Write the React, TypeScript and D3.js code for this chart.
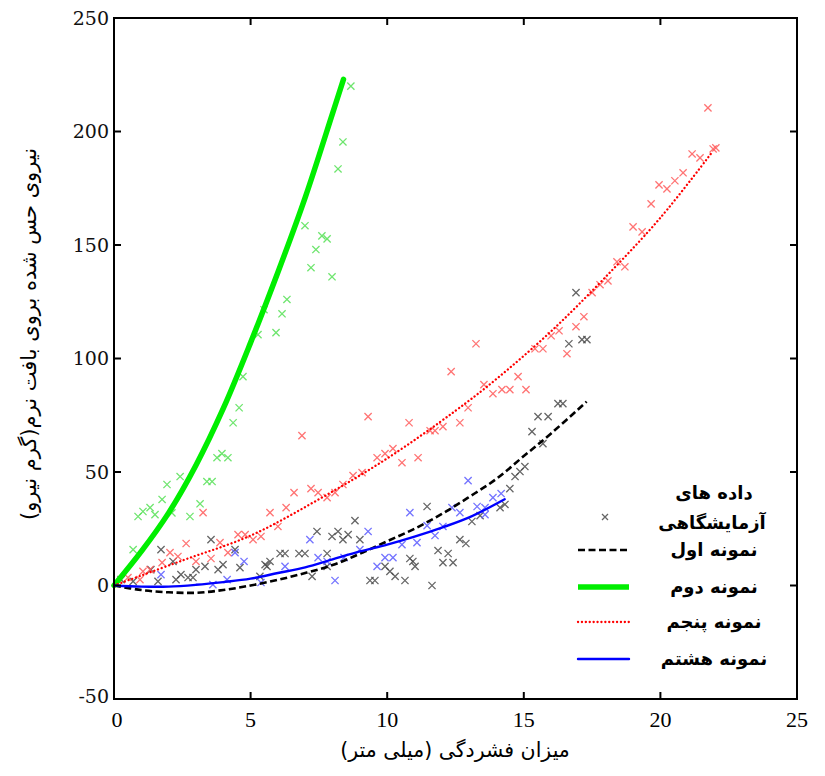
import React from "react";
import * as d3 from "d3";

const X_TICKS = [0, 5, 10, 15, 20, 25];
const Y_TICKS = [-50, 0, 50, 100, 150, 200, 250];

// fitted curves [x, y]
const fitSample1: [number, number][] = [
  [0, 0], [1, -2], [2, -3], [3, -3.2], [4, -2], [5, 0], [6, 2.5], [7, 5.5], [8, 9], [9, 14],
  [10, 19.5], [11, 25], [12, 31.5], [13, 39], [14, 47], [15, 57], [16, 67], [17.3, 81],
];
const fitSample2: [number, number][] = [
  [0, 0], [1, 15], [2, 32], [3, 53], [4, 78], [5, 107], [6, 138], [7, 171], [8, 208], [8.4, 223],
];
const fitSample5: [number, number][] = [
  [0, 0], [2.5, 11], [5, 22], [7.5, 38], [10, 56], [12.5, 77], [14, 91], [16, 112], [18, 136],
  [20, 162], [21.9, 191],
];
const fitSample8: [number, number][] = [
  [0, 0], [1, -0.5], [2, -0.5], [3, 0.3], [4, 1.5], [5, 3], [6, 5.5], [7, 8], [8, 11.5], [9, 15],
  [10, 18], [11, 21.5], [12, 25.5], [13, 30], [14.3, 38],
];

// experimental data [x, y]
const expSample1: [number, number][] = [
  [16.25, 80.1], [16.43, 80.1], [15.52, 74.4], [15.89, 74.4], [15.3, 67.8], [15.7, 62.5],
  [15.04, 52.4], [14.86, 50.2], [14.68, 48], [14.49, 42.7], [14.31, 35.7], [14.13, 34.3],
  [13.4, 30.8], [13.1, 28.2], [11.46, 34.8], [12.66, 20.2], [12.88, 18.5], [11.86, 15.4],
  [12.23, 14.1], [12.04, 10.1], [12.41, 10.1], [10.94, 10.6], [11.02, 8.4], [11.64, 0],
  [8.82, 28.6], [7.43, 23.8], [8.2, 23.8], [7.98, 21.6], [8.57, 22.4], [8.38, 20.2], [9.0, 20.2],
  [6.08, 14.1], [6.26, 14.1], [6.77, 14.1], [6.99, 14.1], [7.8, 14.1], [5.71, 10.6], [5.6, 8.4],
  [7.8, 8.4], [9.92, 8.4], [10.83, 11.9], [10.1, 6.2], [10.29, 4], [7.25, 4], [9.37, 2.2],
  [9.55, 2.2], [10.65, 2.2], [3.55, 20.2], [1.72, 15.8], [4.43, 15.8], [2.16, 10.6], [3.33, 8.4],
  [3.0, 7], [3.99, 9.2], [3.81, 7], [4.61, 7.9], [2.45, 4.8], [1.35, 7], [2.71, 3.5], [2.89, 3.5],
  [2.27, 2.6], [1.61, 1.8], [0.26, 2.6], [0.7, 1.8], [5.53, 9.2], [5.34, 4], [16.91, 129],
  [16.65, 106.5], [17.13, 108.3], [17.31, 108.3],
];
const expSample2: [number, number][] = [
  [8.67, 220], [8.38, 195.4], [8.2, 183.5], [6.99, 158.5], [7.61, 154], [7.8, 152.7], [7.39, 148],
  [7.21, 140], [7.98, 136], [6.33, 126], [6.15, 119.7], [5.49, 121.5], [5.93, 111.4], [5.27, 110.5],
  [4.72, 92], [4.58, 78.3], [4.36, 71.7], [3.77, 56.3], [3.95, 58.1], [4.17, 56.3], [3.4, 45.8],
  [3.59, 45.8], [3.15, 36], [2.78, 30.4], [2.42, 48], [1.94, 44.5], [1.76, 37.9], [2.12, 32],
  [1.32, 34.3], [1.06, 32.6], [0.88, 30.4], [1.5, 31.2], [0.7, 15.8],
];
const expSample5: [number, number][] = [
  [21.74, 210.4], [22.03, 192.8], [21.93, 192.3], [21.16, 190.1], [21.45, 188.4], [20.83, 181.8],
  [20.53, 178.3], [20.24, 174.7], [19.95, 176.5], [19.66, 168.1], [19.0, 158], [19.33, 155.8],
  [18.41, 142.6], [18.7, 140.4], [18.08, 134.2], [17.79, 132.5], [17.5, 129], [17.2, 118.4],
  [16.91, 114], [16.0, 110], [16.29, 112.2], [15.41, 104.3], [15.7, 104.3], [16.58, 102.1],
  [14.79, 92], [14.2, 86.3], [14.49, 86.3], [15.08, 86.3], [13.25, 106.5], [12.34, 94.2],
  [13.87, 84.5], [13.54, 88.5], [12.96, 78.3], [12.66, 71.7], [12.04, 70], [11.75, 68.2],
  [11.57, 68.2], [10.8, 71.7], [9.3, 74.4], [6.88, 66], [11.13, 56.3], [10.54, 54.1], [10.21, 60.3],
  [9.92, 58.1], [9.63, 56.3], [9.08, 49.7], [8.75, 48.4], [8.38, 44.5], [8.09, 40.9], [7.8, 38.7],
  [7.47, 40.9], [7.21, 42.7], [6.59, 40.9], [6.3, 34.3], [5.71, 32.1], [3.26, 32.1], [6.0, 26],
  [2.64, 18.5], [2.05, 14.5], [2.34, 12.8], [3.0, 10.6], [3.55, 11.9], [4.17, 14.5], [3.88, 18.9],
  [4.54, 22.4], [4.8, 22.4], [5.09, 20.2], [5.38, 21.6], [1.32, 7], [1.06, 6.2], [1.76, 10.1],
  [0.51, 3.5], [0.95, 2.6],
];
const expSample8: [number, number][] = [
  [12.96, 46.2], [14.17, 40.5], [13.87, 38.7], [13.29, 34.8], [13.58, 34.3], [12.66, 32.1],
  [12.37, 34.3], [13.58, 31.2], [10.83, 32.1], [11.46, 26.4], [12.04, 26], [11.75, 22],
  [11.09, 18.9], [9.3, 23.8], [7.17, 20.2], [9.0, 15.8], [10.54, 18], [7.47, 12.3], [7.8, 10.6],
  [8.42, 12.3], [9.92, 12.3], [10.21, 12.3], [9.63, 8.4], [8.09, 2.2], [6.26, 8.4], [1.72, 4.8],
  [4.43, 14.5], [4.76, 10.6], [5.38, 1.3], [4.14, 2.6], [3.62, 0.4],
];

const LEGEND_TITLE = ["داده های", "آزمایشگاهی"];
const LEGEND_LABELS = ["نمونه اول", "نمونه دوم", "نمونه پنجم", "نمونه هشتم"];
const X_TITLE = "میزان فشردگی (میلی متر)";
const Y_TITLE = "نیروی حس شده بروی بافت نرم(گرم نیرو)";

const W = 825;
const H = 776;
const L = 114, R = 797, T = 18, B = 699;

const x = d3.scaleLinear().domain([0, 25]).range([L, R]);
const y = d3.scaleLinear().domain([-50, 250]).range([B, T]);

const line = d3
  .line<[number, number]>()
  .x((d) => x(d[0]))
  .y((d) => y(d[1]))
  .curve(d3.curveCatmullRom.alpha(0.5));

const lineStyles = [
  { color: "#000000", width: 2.6, dash: "7 3.5", cap: "butt" },
  { color: "#00ee00", width: 5.5, dash: undefined, cap: "round" },
  { color: "#ff0000", width: 2.3, dash: "0.1 3.8", cap: "round" },
  { color: "#0000ff", width: 2.4, dash: undefined, cap: "round" },
];
const markerColors = ["#4a4a4a", "#55e055", "#ff5a5a", "#5a5aff"];

function Cross({ cx, cy, color, s = 3.6 }: { cx: number; cy: number; color: string; s?: number }) {
  return (
    <path
      d={`M${cx - s},${cy - s}L${cx + s},${cy + s}M${cx - s},${cy + s}L${cx + s},${cy - s}`}
      stroke={color}
      strokeWidth={1.3}
      strokeOpacity={0.85}
      fill="none"
    />
  );
}

export default function App() {
  const fits = [fitSample1, fitSample2, fitSample5, fitSample8];
  const exps = [expSample1, expSample2, expSample5, expSample8];
  const persian = "'DejaVu Sans', sans-serif";
  const serif = "'Liberation Serif', 'Times New Roman', serif";
  const slab = "'DejaVu Serif', serif";
  const legendRows = [550, 587, 622, 659];

  return (
    <svg
      width={W}
      height={H}
      style={{ position: "absolute", left: 0, top: 0, background: "#fff" }}
      xmlns="http://www.w3.org/2000/svg"
    >
      <rect x={0} y={0} width={W} height={H} fill="#fff" />
      {exps.map((pts, si) =>
        pts.map((p, i) => (
          <Cross key={`m${si}-${i}`} cx={x(p[0])} cy={y(p[1])} color={markerColors[si]} />
        ))
      )}
      {fits.map((pts, si) => (
        <path
          key={`l${si}`}
          d={line(pts) || ""}
          fill="none"
          stroke={lineStyles[si].color}
          strokeWidth={lineStyles[si].width}
          strokeDasharray={lineStyles[si].dash}
          strokeLinecap={lineStyles[si].cap as any}
        />
      ))}
      <rect x={L} y={T} width={R - L} height={B - T} fill="none" stroke="#000" strokeWidth={2} />
      {X_TICKS.map((t) => (
        <g key={`xt${t}`}>
          {t > 0 && t < 25 && (
            <>
              <line x1={x(t)} x2={x(t)} y1={B} y2={B - 7} stroke="#000" strokeWidth={2} />
              <line x1={x(t)} x2={x(t)} y1={T} y2={T + 7} stroke="#000" strokeWidth={2} />
            </>
          )}
          <text x={x(t) + (t === 0 ? 3 : 0)} y={727} textAnchor="middle" fontFamily={serif} fontSize={22} fill="#000">
            {t}
          </text>
        </g>
      ))}
      {Y_TICKS.map((t) => (
        <g key={`yt${t}`}>
          {t > -50 && t < 250 && (
            <>
              <line x1={L} x2={L + 7} y1={y(t)} y2={y(t)} stroke="#000" strokeWidth={2} />
              <line x1={R} x2={R - 7} y1={y(t)} y2={y(t)} stroke="#000" strokeWidth={2} />
            </>
          )}
          <text
            x={109}
            y={y(t) - (t === -50 ? 3 : 0)}
            dy="0.35em"
            textAnchor="end"
            fontFamily={slab}
            fontSize={19}
            fill="#111"
          >
            {t}
          </text>
        </g>
      ))}
      <text x={455} y={757} textAnchor="middle" fontFamily={persian} fontSize={20.5} fill="#000">
        {X_TITLE}
      </text>
      <text
        transform={`translate(36,334) rotate(-90)`}
        textAnchor="middle"
        fontFamily={persian}
        fontSize={21}
        fill="#000"
      >
        {Y_TITLE}
      </text>
      <Cross cx={605} cy={517} color={markerColors[0]} s={3} />
      <text x={714} y={499} textAnchor="middle" fontFamily={persian} fontSize={18} fontWeight="bold" fill="#000">
        {LEGEND_TITLE[0]}
      </text>
      <text x={712} y={529} textAnchor="middle" fontFamily={persian} fontSize={18} fontWeight="bold" fill="#000">
        {LEGEND_TITLE[1]}
      </text>
      {LEGEND_LABELS.map((lab, i) => (
        <g key={`lg${i}`}>
          <line
            x1={578}
            x2={629}
            y1={legendRows[i]}
            y2={legendRows[i]}
            stroke={lineStyles[i].color}
            strokeWidth={lineStyles[i].width}
            strokeDasharray={lineStyles[i].dash}
            strokeLinecap={i === 1 ? "butt" : (lineStyles[i].cap as any)}
          />
          <text
            x={714}
            y={legendRows[i] + 6}
            textAnchor="middle"
            fontFamily={persian}
            fontSize={18}
            fontWeight="bold"
            fill="#000"
          >
            {lab}
          </text>
        </g>
      ))}
    </svg>
  );
}
